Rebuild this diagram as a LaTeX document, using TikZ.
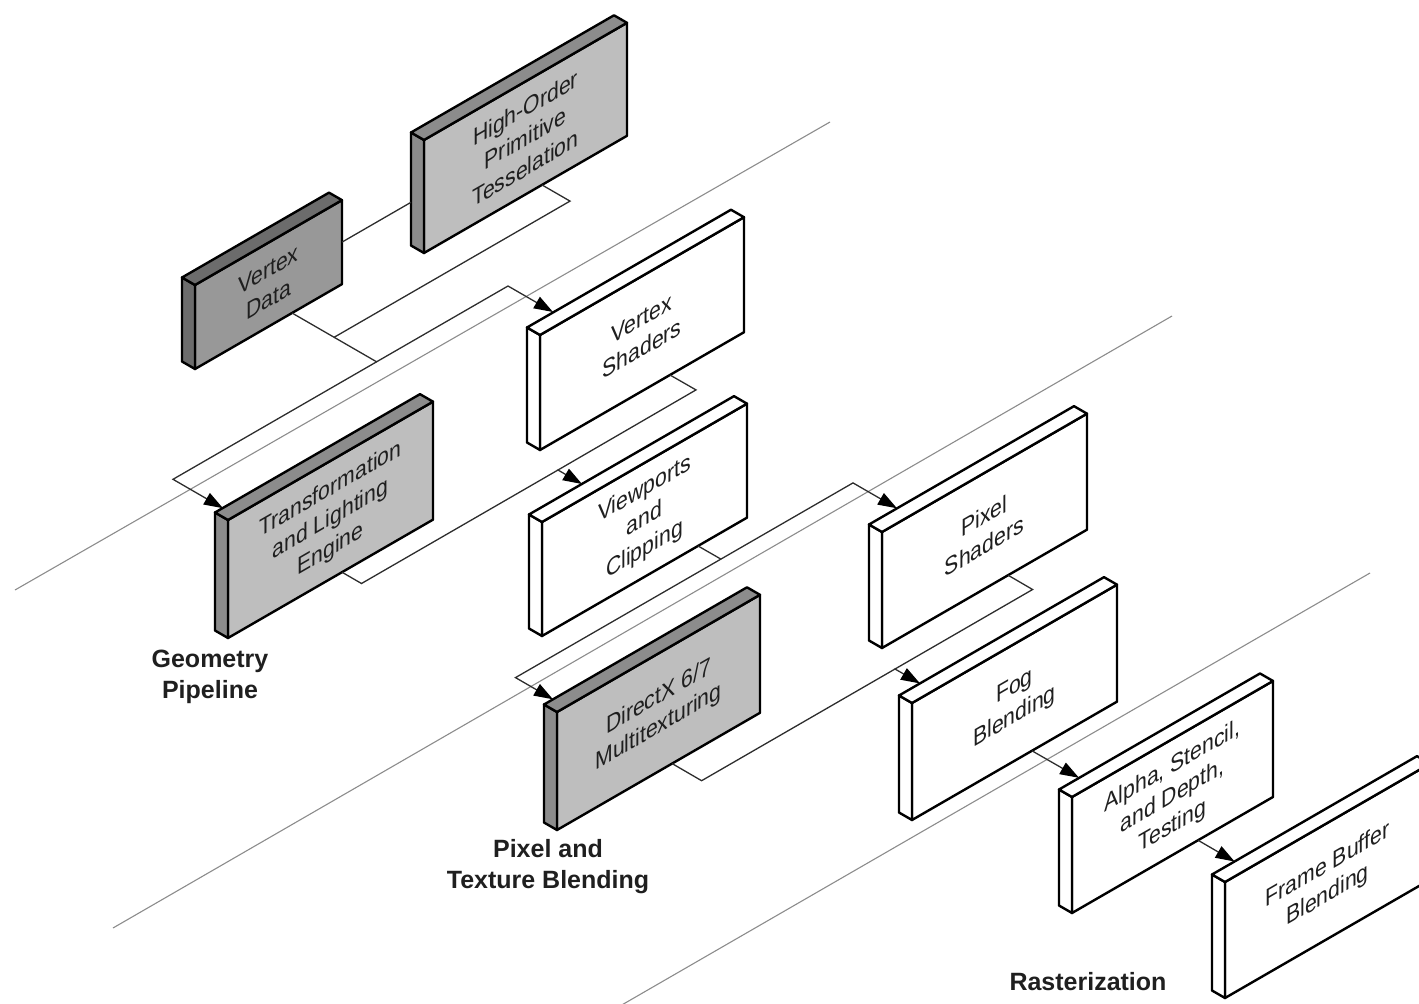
\documentclass[tikz,border=0pt]{standalone}
\usepackage{fontspec}
\setmainfont{Liberation Sans}
\usetikzlibrary{calc,arrows.meta}
\definecolor{frontlight}{RGB}{190,190,190}
\definecolor{sidelight}{RGB}{140,140,140}
\definecolor{frontdark}{RGB}{152,152,152}
\definecolor{sidedark}{RGB}{108,108,108}
\definecolor{conn}{RGB}{45,45,45}
\definecolor{sepcol}{RGB}{140,140,140}
\tikzset{
 isoface/.style={draw=black, line width=2.4pt, transform shape, anchor=north west,
   inner sep=0pt, outer sep=0pt, align=center, font=\fontsize{24.5}{30}\selectfont,
   text=black!88, line join=round},
 isoside/.style={draw=black, line width=2.4pt, line join=round},
 connector/.style={draw=conn, line width=1.3pt},
 arrowconn/.style={connector, -{Triangle[length=19pt,width=13pt,color=black]}},
 separator/.style={draw=sepcol, line width=1.1pt},
 steplabel/.style={font=\bfseries\fontsize{25}{31}\selectfont, align=center, text=black!88},
}
% name, x, y, w, h, front colour, side colour, text
\newcommand\isobox[8]{%
 \begin{scope}[shift={(#2,#3)}, cm={0.866025,0.5,0,1,(0,0)}]
  \node[isoface, fill=#6, minimum width={#4/0.866025}, minimum height={#5}] (#1) at (0,0) {#8};
 \end{scope}
 \filldraw[isoside, fill=#7] (#1.north west) -- (#1.south west) -- ++(-13,-7.5)
   -- ($(#1.north west)+(-13,-7.5)$) -- cycle;
 \filldraw[isoside, fill=#7] (#1.north west) -- (#1.north east) -- ++(-13,-7.5)
   -- ($(#1.north west)+(-13,-7.5)$) -- cycle;
}
\begin{document}
\begin{tikzpicture}[x=1pt,y=-1pt]
\useasboundingbox (0,0) rectangle (1419,1004);
\clip (0,0) rectangle (1419,1004);

% separators
\coordinate (s1a) at (15,590);   \coordinate (s1b) at (830,122);
\coordinate (s2a) at (113,928);  \coordinate (s2b) at (1172,316);
\coordinate (s3a) at (620,1006); \coordinate (s3b) at (1370,573);
\draw[separator] (s1a) -- (s1b);
\draw[separator] (s2a) -- (s2b);
\draw[separator] (s3a) -- (s3b);

% boxes
\isobox{vd}{195}{285}{147}{84}{frontdark}{sidedark}{Vertex\\Data}
\isobox{hopt}{424}{140}{203}{113}{frontlight}{sidelight}{High-Order\\Primitive\\Tesselation}
\isobox{vs}{540}{335}{204}{115}{white}{white}{Vertex\\Shaders}
\isobox{tl}{228}{520}{205}{118}{frontlight}{sidelight}{Transformation\\and Lighting\\Engine}
\isobox{vc}{542}{522}{205}{114}{white}{white}{Viewports\\and\\Clipping}
\isobox{dx}{557}{712}{203}{118}{frontlight}{sidelight}{DirectX 6/7\\Multitexturing}
\isobox{ps}{882}{532}{205}{116}{white}{white}{Pixel\\Shaders}
\isobox{fb}{912}{703}{205}{117}{white}{white}{Fog\\Blending}
\isobox{as}{1072}{797}{201}{116}{white}{white}{Alpha, Stencil,\\and Depth,\\Testing}
\isobox{fr}{1225}{882}{205}{116}{white}{white}{Frame Buffer\\Blending}

% connectors: Vertex Data -> Vertex Shaders / T&L
\coordinate (vd-out) at ($(vd.south west)!0.66!(vd.south east)$);
\coordinate (j1) at (376.6,361.8);
\coordinate (k1) at (508,286);
\coordinate (vs-in) at (553,312);
\coordinate (l1) at (173,479.3);
\coordinate (tl-in) at (223,508.2);
\draw[arrowconn] (vd-out) -- (j1) -- (k1) -- (vs-in);
\draw[arrowconn] (j1) -- (l1) -- (tl-in);

% Vertex Data -> HOPT
\coordinate (vd-r) at ($(vd.north east)!0.5!(vd.south east)$);
\coordinate (hopt-in) at (411,202.3);
\draw[connector] (vd-r) -- (hopt-in);

% HOPT -> join
\coordinate (hopt-out) at ($(hopt.south west)!0.581!(hopt.south east)$);
\coordinate (p1) at (570,201.1);
\coordinate (j0) at (334.1,337.3);
\draw[connector] (hopt-out) -- (p1) -- (j0);

% Vertex Shaders -> Viewports
\coordinate (vs-out) at ($(vs.south west)!0.637!(vs.south east)$);
\coordinate (p2) at (696,389.9);
\coordinate (q2) at (558,470);
\coordinate (vc-in) at (582,484);
\draw[arrowconn] (vs-out) -- (p2) -- (q2) -- (vc-in);

% T&L -> join
\coordinate (tl-out) at ($(tl.south west)!0.556!(tl.south east)$);
\coordinate (p5) at (361.5,583.5);
\draw[connector] (tl-out) -- (p5) -- (q2);

% Viewports -> Pixel Shaders / DirectX
\coordinate (vc-out) at ($(vc.south west)!0.761!(vc.south east)$);
\coordinate (p6) at (720.9,559.1);
\coordinate (k6) at (853,482.9);
\coordinate (ps-in) at (897,508.3);
\draw[arrowconn] (vc-out) -- (p6) -- (k6) -- (ps-in);
\coordinate (q6) at (515.5,677.6);
\coordinate (dx-in) at (553,699.3);
\draw[arrowconn] (p6) -- (q6) -- (dx-in);

% Pixel Shaders -> Fog
\coordinate (ps-out) at ($(ps.south west)!0.615!(ps.south east)$);
\coordinate (p8) at (1032.6,589.5);
\coordinate (q8) at (895,669);
\coordinate (fb-in) at (920,683.4);
\draw[arrowconn] (ps-out) -- (p8) -- (q8) -- (fb-in);

% DirectX -> join
\coordinate (dx-out) at ($(dx.south west)!0.567!(dx.south east)$);
\coordinate (p7) at (701.6,780.7);
\draw[connector] (dx-out) -- (p7) -- (q8);

% Fog -> Alpha
\coordinate (fb-out) at ($(fb.south west)!0.585!(fb.south east)$);
\coordinate (as-in) at (1079,777.8);
\draw[arrowconn] (fb-out) -- (as-in);

% Alpha -> Frame Buffer
\coordinate (as-out) at ($(as.south west)!0.627!(as.south east)$);
\coordinate (fr-in) at (1234.6,861.5);
\draw[arrowconn] (as-out) -- (fr-in);

% stage labels
\node[steplabel] (geo) at (210,677) {Geometry\\Pipeline};
\node[steplabel] (ptb) at (548,867) {Pixel and\\Texture Blending};
\node[steplabel] (rast) at (1088,982) {Rasterization};
\end{tikzpicture}
\end{document}
